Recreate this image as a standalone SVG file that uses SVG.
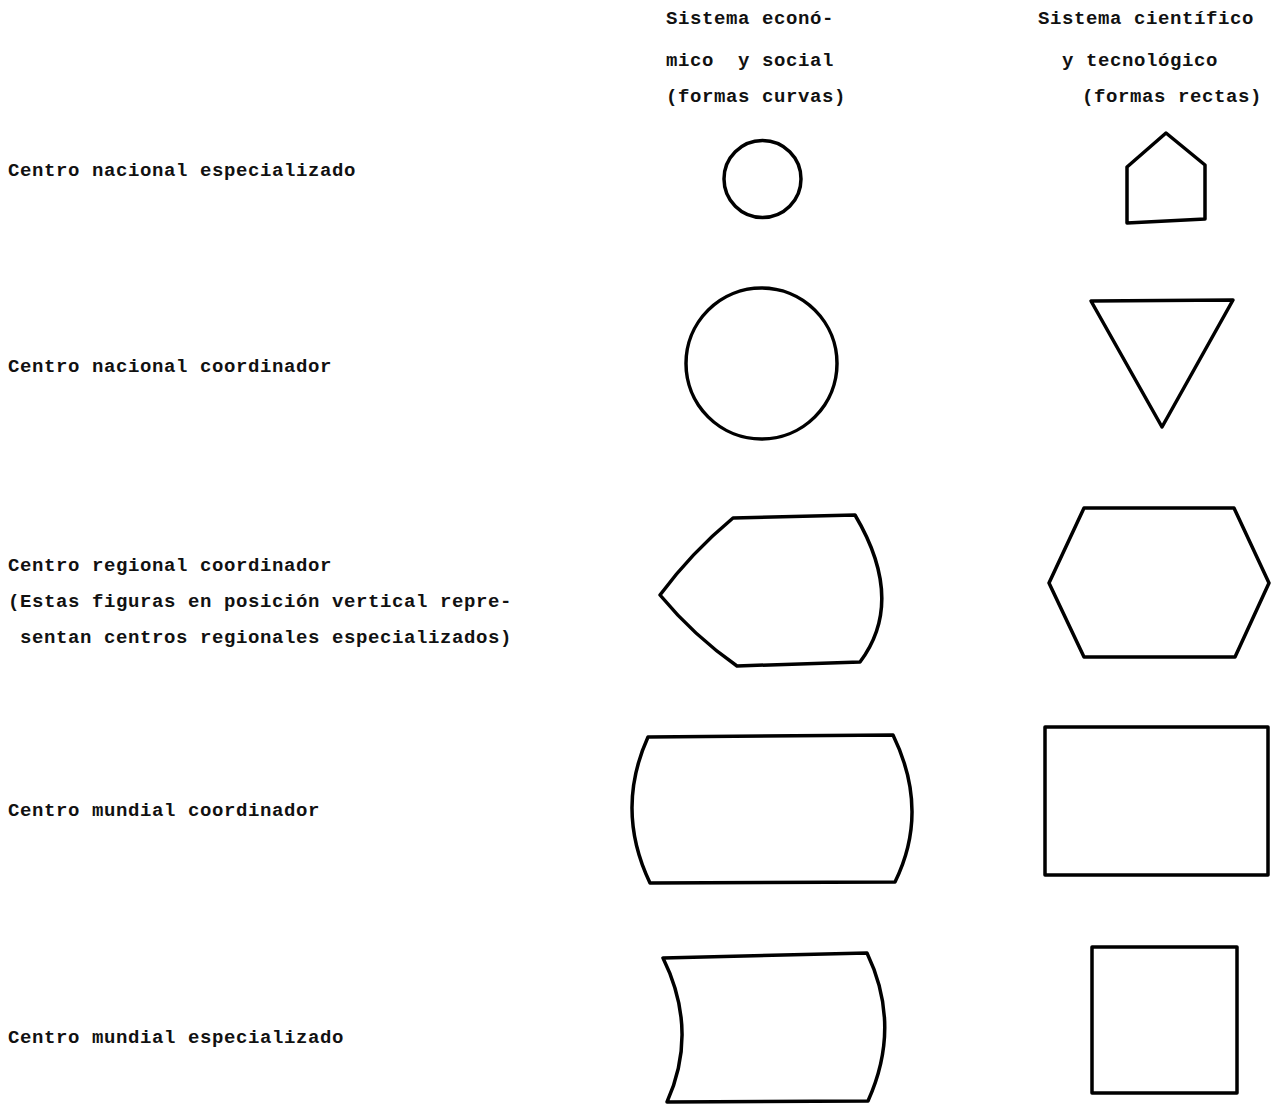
<svg xmlns="http://www.w3.org/2000/svg" width="1271" height="1104" viewBox="0 0 1271 1104">
<style>
text{font-family:"Liberation Mono","DejaVu Sans Mono",monospace;font-size:19px;font-weight:bold;letter-spacing:0.6px;fill:#111;white-space:pre;}
.s{fill:none;stroke:#000;stroke-width:3.5;stroke-linejoin:round;stroke-linecap:round;}
</style>
<rect width="1271" height="1104" fill="#fff"/>
<g id="headers">
<text x="666" y="24">Sistema econó-</text>
<text x="666" y="66" xml:space="preserve">mico  y social</text>
<text x="666" y="102">(formas curvas)</text>
<text x="1038" y="24">Sistema científico</text>
<text x="1062" y="66">y tecnológico</text>
<text x="1082" y="102">(formas rectas)</text>
</g>
<g id="labels">
<text x="8" y="176">Centro nacional especializado</text>
<text x="8" y="372">Centro nacional coordinador</text>
<text x="8" y="571">Centro regional coordinador</text>
<text x="8" y="607">(Estas figuras en posición vertical repre-</text>
<text x="20" y="643">sentan centros regionales especializados)</text>
<text x="8" y="816">Centro mundial coordinador</text>
<text x="8" y="1043">Centro mundial especializado</text>
</g>
<g id="node-nacional-especializado-eco"><circle class="s" cx="762.5" cy="179" r="38.5"/></g>
<g id="node-nacional-especializado-cient"><polygon class="s" points="1166,133 1205,165 1205,219 1127,223 1127,167"/></g>
<g id="node-nacional-coordinador-eco"><circle class="s" cx="761.5" cy="363.5" r="75.5"/></g>
<g id="node-nacional-coordinador-cient"><polygon class="s" points="1091,301 1233,300 1162,427"/></g>
<g id="node-regional-coordinador-eco"><path class="s" d="M733,518 L855,515 Q906,601 860,662 L737,666 Q694,636 660,595 Q691,553 733,518 Z"/></g>
<g id="node-regional-coordinador-cient"><polygon class="s" points="1084,508 1234,508 1269,583 1235,657 1084,657 1049,583"/></g>
<g id="node-mundial-coordinador-eco"><path class="s" d="M648,737 L893,735 Q930,811 895,882 L650,883 Q615,810 648,737 Z"/></g>
<g id="node-mundial-coordinador-cient"><rect class="s" x="1045" y="727" width="223" height="148"/></g>
<g id="node-mundial-especializado-eco"><path class="s" d="M663,958 L867,953 Q902,1026 868,1101 L667,1102 Q699,1031 663,958 Z"/></g>
<g id="node-mundial-especializado-cient"><rect class="s" x="1092" y="947" width="145" height="146"/></g>
<g id="connectors"></g>
</svg>
